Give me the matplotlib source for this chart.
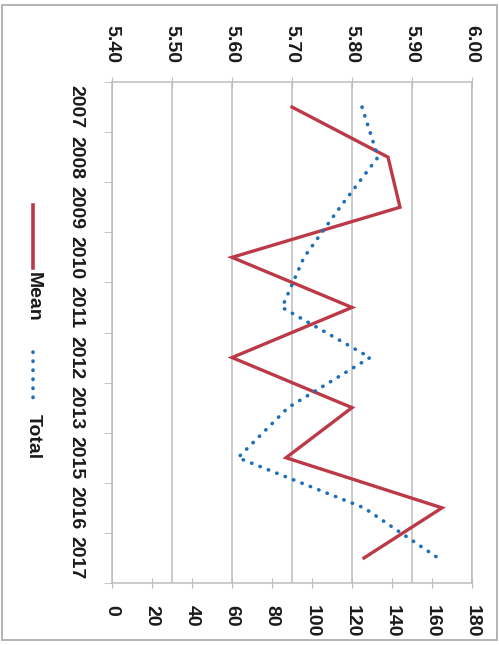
import matplotlib
matplotlib.use("Agg")
import matplotlib.pyplot as plt
from matplotlib.lines import Line2D
from matplotlib.patches import Rectangle

years = ['2007', '2008', '2009', '2010', '2011', '2012', '2013', '2015', '2016', '2017']
mean = [5.70, 5.86, 5.88, 5.60, 5.80, 5.60, 5.80, 5.69, 5.95, 5.82]
total = [125, 133, 114, 96, 85, 129, 88, 63, 126, 163]
mean_ticks = [5.40, 5.50, 5.60, 5.70, 5.80, 5.90, 6.00]
total_ticks = [0, 20, 40, 60, 80, 100, 120, 140, 160, 180]

RED = '#BC3A48'
BLUE = '#1F6FB8'
GRID = '#BDBDBD'
TXT = '#1A1A1A'

plt.rcParams['font.family'] = ['Liberation Sans', 'DejaVu Sans']
plt.rcParams['font.weight'] = 'bold'

W, H = 499, 645
fig = plt.figure(figsize=(W / 100, H / 100), dpi=100)

# outer frame of the picture
fig.patches.append(Rectangle((2 / W, 1 - 640 / H), 495 / W, 635 / H,
                             transform=fig.transFigure, fill=False,
                             edgecolor='#A8A8A8', lw=1.2))

# the chart is turned a quarter turn clockwise: values run left->right,
# years run top->bottom
ax = fig.add_axes([112 / W, 1 - 583 / H, 360 / W, 501 / H])
ax2 = ax.twiny()
pos = list(range(len(years)))

# mean axis -> top edge
ax.set_xlim(5.40, 6.00)
ax.set_ylim(len(years) - 0.5, -0.5)
ax.xaxis.tick_top()
ax.set_xticks(mean_ticks)
ax.set_xticklabels(['%.2f' % v for v in mean_ticks], rotation=-90,
                   fontsize=14, color=TXT)
ax.tick_params(axis='x', direction='inout', length=7, color=GRID, pad=10)
ax.grid(axis='x', color=GRID, lw=1.1)

ax.set_yticks(pos)
ax.set_yticklabels(years, rotation=-90, fontsize=14, color=TXT, va='center')
ax.set_yticks([p - 0.5 for p in pos] + [len(years) - 0.5], minor=True)
ax.tick_params(axis='y', which='major', length=0, pad=20)
ax.tick_params(axis='y', which='minor', length=6, color=GRID, direction='out')

for s in ax.spines.values():
    s.set_color(GRID)
    s.set_linewidth(1.1)

ax.plot(mean, pos, color=RED, lw=2.4, solid_joinstyle='miter', zorder=3)

# total axis -> bottom edge
ax2.set_xlim(0, 180)
ax2.xaxis.tick_bottom()
ax2.set_xticks(total_ticks)
ax2.set_xticklabels([str(v) for v in total_ticks], rotation=-90,
                    fontsize=14, color=TXT)
ax2.tick_params(axis='x', direction='inout', length=7, color=GRID, pad=12)
for s in ax2.spines.values():
    s.set_visible(False)
ax2.plot(total, pos, color=BLUE, lw=2.6, linestyle=(0, (0.1, 2.4)),
         dash_capstyle='round', zorder=4)

# sideways legend on the left
fig.lines.append(Line2D([33 / W, 33 / W], [1 - 205 / H, 1 - 268 / H],
                        transform=fig.transFigure, color=RED, lw=2.6))
fig.text(33 / W, 1 - 272 / H, 'Mean', rotation=-90, ha='center', va='top',
         fontsize=14, color=TXT)
fig.lines.append(Line2D([33 / W, 33 / W], [1 - 352 / H, 1 - 402 / H],
                        transform=fig.transFigure, color=BLUE, lw=2.6,
                        linestyle=(0, (0.1, 2.4)), dash_capstyle='round'))
fig.text(33 / W, 1 - 414 / H, 'Total', rotation=-90, ha='center', va='top',
         fontsize=14, color=TXT)

fig.savefig('out.png', dpi=100)
